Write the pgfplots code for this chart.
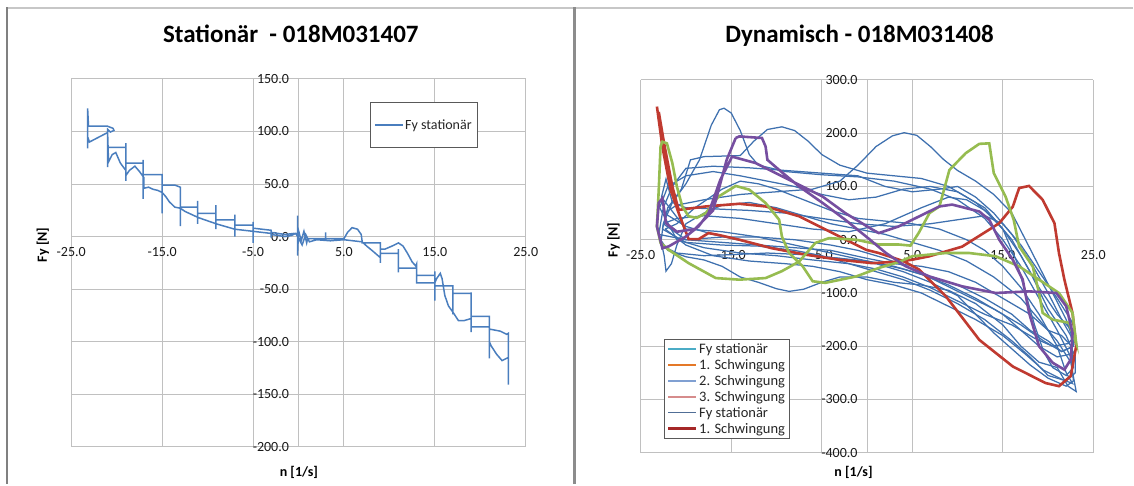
\documentclass[border=0pt]{standalone}
\usepackage{pgfplots}
\pgfplotsset{compat=1.18}
\usepackage{fontspec}
\setmainfont{Carlito}
\definecolor{lblue}{RGB}{74,126,190}
\definecolor{dblue}{RGB}{62,112,175}
\definecolor{cred}{RGB}{192,58,48}
\definecolor{cgreen}{RGB}{150,188,80}
\definecolor{cpurple}{RGB}{118,78,160}
\definecolor{ccyan}{RGB}{75,172,198}
\definecolor{corange}{RGB}{228,120,40}
\definecolor{cmblue}{RGB}{128,160,210}
\definecolor{cpink}{RGB}{214,140,140}
\definecolor{csteel}{RGB}{80,110,150}
\definecolor{cdred}{RGB}{165,40,40}
\definecolor{gridc}{RGB}{192,192,192}
\pgfplotsset{
  chartstyle/.style={
    scale only axis, anchor=south west,
    axis lines=middle,
    axis line style={draw=gridc, line width=1pt, -},
    every inner x axis line/.append style={-},
    every inner y axis line/.append style={-},
    grid=major,
    major grid style={draw=gridc, line width=1pt},
    major tick length=0pt,
    xmin=-25, xmax=25,
    xtick={-25,-15,-5,5,15,25},
    hide obscured x ticks=false,
    hide obscured y ticks=false,
    ticklabel style={font=\fontsize{14}{16}\selectfont, text=black!90},
    xticklabel style={yshift=-7pt},
    yticklabel style={xshift=-6pt},
    /pgf/number format/fixed, /pgf/number format/fixed zerofill,
    /pgf/number format/precision=1, /pgf/number format/assume math mode=true,
    legend cell align=left,
    legend image code/.code={\draw[##1] (0pt,0pt) -- (28pt,0pt);},
  }
}
\begin{document}
\begin{tikzpicture}[x=1pt,y=1pt]
\fill[white] (0,0) rectangle (1134,484);
\draw[black!22, line width=1.3pt] (7,476) -- (1134,476);
\draw[black!50, line width=2pt] (7.5,0) -- (7.5,476.6);
\draw[black!45, line width=3pt] (574.5,0) -- (574.5,476.6);

\node[font=\fontsize{25}{30}\selectfont\bfseries, anchor=base] at (291pt,441pt) {Stationär\ \ - 018M031407};
\node[font=\fontsize{25}{30}\selectfont\bfseries, anchor=base] at (860pt,441pt) {Dynamisch - 018M031408};
\node[font=\fontsize{14}{16}\selectfont\bfseries, anchor=base] at (299pt,7pt) {n [1/s]};
\node[font=\fontsize{14}{16}\selectfont\bfseries, anchor=base] at (854pt,7pt) {n [1/s]};
\node[font=\fontsize{14}{16}\selectfont\bfseries, rotate=90] at (43pt,239pt) {Fy [N]};
\node[font=\fontsize{14}{16}\selectfont\bfseries, rotate=90] at (614pt,244pt) {Fy [N]};

% ---------------- left chart ----------------
\begin{axis}[chartstyle,
  at={(71.3pt,37pt)}, width=454.7pt, height=368pt,
  ymin=-200, ymax=150, ytick={-200,-150,...,150},
  legend style={at={(rel axis cs:0.657,0.9375)}, anchor=north west,
    draw=black!65, line width=0.8pt, fill=white,
    font=\fontsize{14}{16}\selectfont, text=black!85,
    inner xsep=4pt, inner ysep=16pt,
    nodes={inner xsep=1.5pt, inner ysep=1pt}},
]
\addplot[lblue, line width=1.5pt] coordinates {
(-23.2,84) (-23.2,122) (-23.1,105) (-21.0,105) (-20.4,103) (-20.3,101) (-20.7,99.5) (-21.0,102) (-21.0,66) (-21.0,85)
(-19.0,85) (-19.0,89) (-19.0,53) (-19.0,70) (-17.1,70) (-17.1,73) (-17.1,36) (-17.1,59) (-15.0,59) (-15.0,22) (-15.0,49)
(-13.6,49) (-13.0,47) (-13.0,10) (-13.0,28) (-11.1,28) (-11.1,34) (-11.1,12) (-11.1,22) (-9.1,22) (-9.1,30) (-9.1,7) (-9.1,16)
(-7.0,16) (-7.0,21) (-7.0,0) (-7.0,11) (-5.0,11) (-5.0,14) (-5.0,-6) (-5.0,8) (-3.0,6) (-3.0,-1) (-3.0,4)
(-1.5,2) (-0.5,3) (-0.1,2) (-0.1,20) (-0.1,-18) (0.0,6) (0.3,-4) (0.6,5) (0.9,-6) (1.0,-2) (3.0,-2) (3.0,4) (3.0,-4) (3.0,-2)
(5.0,-2) (5.4,4) (5.9,8.5) (6.5,7) (6.9,2) (7.0,-4) (7.0,-6) (9.0,-6) (9.0,-25) (9.0,-12) (9.5,-12) (10.3,-9) (11.0,-6)
(11.5,-9) (12.0,-16) (12.5,-24) (12.9,-28) (13.0,-26) (13.0,-44) (13.0,-37) (15.0,-37) (15.0,-33) (15.0,-61) (15.0,-47)
(17.0,-47) (17.0,-74) (17.0,-54) (19.0,-54) (19.0,-53) (19.0,-91) (19.0,-76) (21.0,-76) (21.0,-116) (21.0,-88)
(22.2,-90) (22.9,-93) (23.1,-92) (23.1,-141) (23.1,-115)
(22.4,-118) (21.8,-112) (21.2,-104) (21.0,-100) (21.0,-86) (19.0,-86) (19.0,-78) (18.2,-80) (17.6,-80) (17.0,-72)
(16.5,-66) (16.1,-56) (15.8,-40) (15.6,-35) (15.2,-40) (15.0,-44) (13.0,-44) (13.0,-30) (11.0,-30) (11.0,-34) (11.0,-12)
(11.0,-16) (9.0,-16) (9.0,-20) (8.2,-14) (7.5,-9) (7.0,-5) (5.0,-3) (3.5,-4) (2.0,-3) (1.2,-5) (0.8,2) (0.4,-8) (0.1,-3)
(-0.3,3) (-0.8,1) (-1.5,0) (-3.0,2) (-3.0,3) (-5.0,5) (-7.0,7) (-9.0,12) (-11.0,18) (-12.5,24) (-13.0,27) (-13.6,28)
(-14.2,33) (-14.6,38) (-15.0,42) (-15.5,44) (-16.0,45) (-16.5,47) (-17.0,46) (-17.0,56) (-17.5,62) (-18.0,67) (-18.6,63)
(-19.0,58) (-19.0,63) (-19.6,70) (-20.1,80) (-20.5,78) (-20.9,71) (-21.0,99) (-23.0,90) (-23.2,95)
};
\addlegendentry{Fy stationär}
\end{axis}

% ---------------- right chart ----------------
\begin{axis}[chartstyle,
  at={(641pt,31pt)}, width=453pt, height=373pt,
  ymin=-400, ymax=300, ytick={-400,-300,...,300},
  legend style={at={(rel axis cs:0.051,0.306)}, anchor=north west,
    draw=black!65, line width=0.8pt, fill=white,
    font=\fontsize{14.5}{16}\selectfont, text=black!85,
    inner xsep=3pt, inner ysep=2pt,
    nodes={inner xsep=1.5pt, inner ysep=2.2pt}},
]
% blue loops
\addplot[dblue, line width=1.25pt, forget plot] coordinates {
(-22.8,-10) (-22.5,30) (-21.5,70) (-20,105) (-18.5,150) (-17.2,215) (-16.3,244) (-15.8,247) (-15,238) (-14,205) (-13,160)
(-12,140) (-9,128) (-5,122) (-1,118) (3,110) (7,95) (10,75) (13,40) (15,0) (17,-50) (19,-110) (21,-170) (22.5,-220)
(22.8,-265) (22,-275) (20,-260) (18,-235) (16,-205) (14,-175) (12,-140) (10,-105) (7,-80) (4,-60) (1,-45) (-3,-35)
(-7,-28) (-11,-25) (-15,-28) (-18,-30) (-21,-25) (-22.8,-10)};
\addplot[dblue, line width=1.25pt, forget plot] coordinates {
(-22.6,20) (-22,60) (-20.5,95) (-19.5,150) (-18,156) (-14,158) (-12.5,185) (-11,207) (-9.4,212) (-8,205) (-6.5,185)
(-5,160) (-3,140) (0,125) (3,120) (6,115) (9,100) (12,70) (14,40) (16,0) (18,-60) (20,-130) (22,-180) (23,-220)
(23,-250) (22,-265) (20,-255) (18,-220) (16,-190) (13,-150) (10,-120) (7,-95) (4,-75) (1,-60) (-2,-45) (-5,-30)
(-8,-20) (-12,-12) (-16,-10) (-20,-5) (-22.6,20)};
\addplot[dblue, line width=1.25pt, forget plot] coordinates {
(-22.4,50) (-21,65) (-18,75) (-14,85) (-10,90) (-6,95) (-3,110) (-1,140) (1,175) (2.8,195) (4.1,201) (5.5,196)
(7,175) (8.5,150) (10,130) (12,110) (14,85) (16,50) (17.5,0) (19,-50) (20.5,-100) (22,-150) (22.8,-190) (22.5,-215)
(21,-220) (19,-200) (17,-170) (15,-140) (12,-110) (9,-85) (6,-65) (3,-50) (0,-40) (-3,-35) (-6,-30) (-9,-20)
(-13,-5) (-17,10) (-20,25) (-22.4,50)};
\addplot[dblue, line width=1.25pt, forget plot] coordinates {
(-22.8,0) (-22.4,-30) (-22.2,-59) (-21.6,-45) (-21,-10) (-20,30) (-18,50) (-16,65) (-13,70) (-10,60) (-7,45) (-4,30)
(-1,20) (2,10) (5,-5) (8,-20) (11,-40) (14,-70) (17,-110) (19,-150) (21,-190) (22.5,-230) (23.1,-285) (22.2,-275)
(21,-240) (19,-230) (17,-200) (15,-160) (12,-120) (9,-95) (6,-85) (3,-80) (0,-70) (-3,-70) (-5,-80) (-7,-93)
(-8.6,-97) (-10,-92) (-12,-80) (-14,-70) (-16,-50) (-18,-38) (-20,-32) (-22,-20) (-22.8,0)};
\addplot[dblue, line width=1.25pt, forget plot] coordinates {
(-23,10) (-22.5,60) (-21.5,100) (-20,134) (-17,138) (-13,135) (-9,130) (-5,125) (-1,120) (2,100) (5,90) (8,95)
(10,100) (12,80) (14,50) (16,10) (18,-40) (20,-100) (21.5,-150) (22.5,-180) (22.8,-200) (21.5,-210) (19.5,-190)
(17,-160) (14,-130) (11,-105) (8,-80) (5,-55) (2,-35) (-1,-20) (-4,-10) (-8,0) (-12,5) (-16,5) (-20,0) (-23,10)};
\addplot[dblue, line width=1.25pt, forget plot] coordinates {
(-22.7,80) (-22.2,114) (-21.5,70) (-20,60) (-17,58) (-13,55) (-9,50) (-5,40) (-1,30) (3,25) (7,30) (11,40) (13,45)
(15,30) (17,-10) (19,-60) (21,-110) (22.5,-150) (23,-170) (22.8,-200) (21.5,-210) (20,-190) (18,-170) (16,-140)
(13,-110) (10,-85) (7,-70) (4,-55) (0,-40) (-4,-25) (-8,-10) (-12,5) (-16,15) (-20,20) (-22.7,80)};
\addplot[dblue, line width=1.25pt, forget plot] coordinates {
(-22.5,30) (-21,40) (-18,45) (-14,40) (-10,30) (-6,20) (-2,15) (2,30) (6,60) (9,80) (11,75) (13,55) (15,20)
(16.5,-40) (17.5,-100) (18.5,-160) (19.5,-210) (20.5,-240) (22,-255) (22.8,-240) (22.6,-200) (21.5,-180) (20,-170)
(18,-140) (15,-110) (12,-80) (9,-60) (6,-50) (3,-45) (0,-35) (-4,-20) (-8,-15) (-12,-10) (-16,-5) (-20,0) (-22.5,30)};
\addplot[dblue, line width=1.25pt, forget plot] coordinates {
(-22.9,60) (-22,100) (-20,120) (-17,128) (-14,120) (-11,110) (-8,100) (-5,85) (-2,75) (1,80) (4,95) (7,100) (10,90)
(13,60) (15,20) (17,-30) (19,-90) (21,-140) (22.6,-170) (23,-180) (22.2,-195) (20.5,-200) (18.5,-185) (16,-160)
(13,-140) (10,-115) (7,-90) (4,-70) (1,-55) (-2,-45) (-6,-38) (-10,-30) (-14,-25) (-18,-15) (-21,0) (-22.9,60)};
\addplot[dblue, line width=1.25pt, forget plot] coordinates {
(-22.3,20) (-21,30) (-19,60) (-16,95) (-14,110) (-12,105) (-10,95) (-7,75) (-4,55) (-1,40) (2,35) (5,30) (8,20)
(11,0) (13,-20) (15,-50) (17,-90) (19,-140) (21,-200) (22,-250) (22.7,-270) (21.5,-262) (19.5,-245) (17.5,-215)
(15,-180) (12,-150) (9,-125) (6,-100) (3,-85) (0,-75) (-3,-60) (-6,-50) (-9,-45) (-13,-40) (-17,-30) (-20,-10) (-22.3,20)};
% red
\addplot[cred, line width=2.6pt, forget plot] coordinates {
(-23.2,250) (-22.6,175) (-21.7,94) (-20.8,50) (-19.7,1) (-18.6,1) (-17.5,12.5) (-16.4,9) (-14.1,0) (-10.5,-16)
(-6.8,-28) (-3.1,-37.5) (0.6,-44) (3.5,-41) (5.0,-37.5) (6.9,-31) (10.5,-13) (13.5,19) (14.6,31) (16.1,62) (16.8,97)
(17.9,101) (19.4,75) (20.7,31) (21.2,-25) (21.8,-75) (22.7,-138) (23.1,-200) (22.5,-256) (21.2,-275) (19.7,-269)
(16.1,-238) (12.4,-188) (8.7,-106) (5.75,-56) (4.0,-40) (1.3,-25) (-0.1,-19) (-3.8,12.5) (-7.5,44) (-11.2,62.5)
(-14.1,67.5) (-17.8,62.5) (-20.8,56) (-21.5,100) (-22.4,180) (-23.0,240)};
% green
\addplot[cgreen, line width=2.6pt, forget plot] coordinates {
(-22.8,175) (-22.6,184) (-22.1,181) (-21.5,144) (-21,100) (-20.4,62.5) (-19.7,44) (-18.8,41) (-17.8,50) (-16.4,81)
(-14.5,101) (-13,94) (-11.2,69) (-9.7,37.5) (-9.4,6) (-8.6,-25) (-7.1,-50) (-6,-78) (-4.6,-81) (-1.2,-69) (1.3,-53)
(3.5,-42) (5,-31) (8.7,-25) (11.3,-25) (14.2,-31) (16.8,-50) (19,-75) (21.2,-100) (22.7,-137.5) (23.1,-194)
(22.3,-156) (20.5,-150) (19.4,-137.5) (19,-100) (18.3,-50) (16.8,-12.5) (16.2,37.5) (15.3,81) (14,125) (13.5,181)
(12.4,180) (10.9,162.5) (9.1,131) (8,62.5) (6.9,50) (5.7,12.5) (4.8,-11) (3.5,-9) (1.3,-9) (-1.2,0) (-4.2,3)
(-5.7,-6) (-7.5,-41) (-9.4,-59) (-11.2,-72) (-14.1,-75) (-16.7,-72) (-19.7,-44) (-21.9,-19) (-22.8,-6) (-23.2,25)
(-23,94) (-22.8,175)};
% purple
\addplot[cpurple, line width=2.6pt, forget plot] coordinates {
(-14.5,191) (-14.1,194) (-11.6,191) (-11.2,175) (-11,150) (-9.7,131) (-7.5,100) (-4.9,69) (-2.4,37.5) (-0.1,6)
(2.1,-25) (3.5,-41) (4.3,-50) (6.9,-69) (10.5,-87.5) (14.2,-100) (17.9,-97) (20.9,-100) (22,-125) (22.7,-175)
(22.5,-225) (21.8,-244) (20.5,-231) (19,-200) (17.9,-137.5) (17.2,-75) (16.1,-37.5) (14.6,0) (13.5,37.5) (12.4,53)
(9.4,66) (8,62.5) (5,37.5) (3.5,25) (1.3,12.5) (0.6,19) (-2.4,50) (-4.9,81) (-8.6,112.5) (-12.3,144) (-14.9,156)
(-16.2,112.5) (-17.5,50) (-18.6,25) (-20,6) (-21.9,-12.5) (-22.6,-16) (-23.2,25) (-23,69) (-22.6,78) (-22.4,56)
(-22.2,31) (-21,15) (-19,20) (-17,55) (-15.5,150) (-14.5,191)};
% legend
\addlegendimage{ccyan, line width=1.2pt}
\addlegendentry{Fy stationär}
\addlegendimage{corange, line width=2.6pt}
\addlegendentry{1. Schwingung}
\addlegendimage{cmblue, line width=2.6pt}
\addlegendentry{2. Schwingung}
\addlegendimage{cpink, line width=2.6pt}
\addlegendentry{3. Schwingung}
\addlegendimage{csteel, line width=1.2pt}
\addlegendentry{Fy stationär}
\addlegendimage{cdred, line width=2.6pt}
\addlegendentry{1. Schwingung}
\end{axis}
\end{tikzpicture}
\end{document}
